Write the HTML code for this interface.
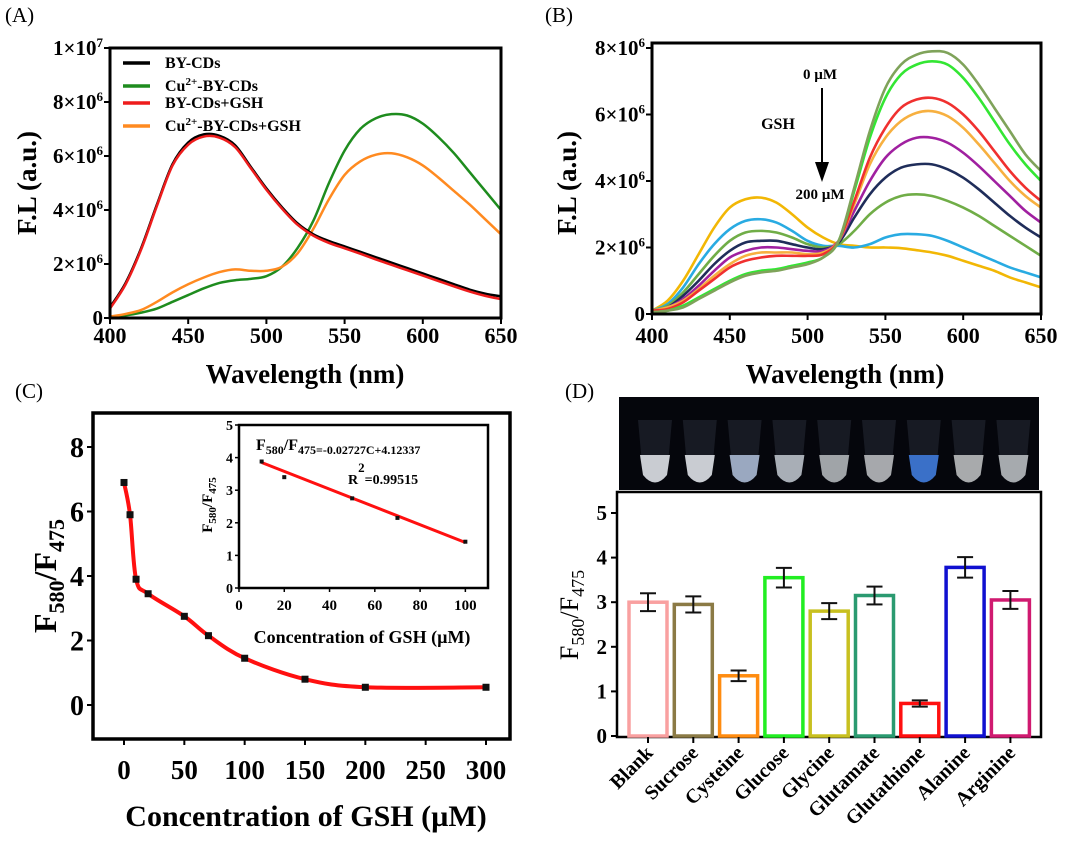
<!DOCTYPE html>
<html><head><meta charset="utf-8"><style>
body{margin:0;background:#fff}
</style></head><body>
<svg id="s" width="1080" height="845" viewBox="0 0 1080 845" xmlns="http://www.w3.org/2000/svg"></svg>
<script>
// ---------- Data ----------
const wl = [400,410,420,430,440,450,460,470,480,490,500,510,520,530,540,550,560,570,580,590,600,610,620,630,640,650];
const aNames = ["BY-CDs","Cu2+-BY-CDs","BY-CDs+GSH","Cu2+-BY-CDs+GSH"];
const aBlack = [0.4,1.3,2.6,4.2,5.7,6.5,6.8,6.75,6.4,5.6,4.8,4.1,3.5,3.1,2.85,2.65,2.45,2.25,2.05,1.85,1.65,1.45,1.25,1.05,0.9,0.8];
const aGreen = [0.05,0.1,0.2,0.35,0.6,0.85,1.1,1.3,1.4,1.45,1.55,1.9,2.6,3.6,5.0,6.2,7.0,7.4,7.55,7.5,7.2,6.7,6.1,5.4,4.7,4.0];
const aRed = [0.35,1.25,2.55,4.15,5.65,6.42,6.72,6.68,6.33,5.55,4.75,4.05,3.45,3.05,2.78,2.58,2.38,2.17,1.97,1.77,1.57,1.37,1.17,0.98,0.82,0.7];
const aOrange = [0.05,0.15,0.3,0.6,0.95,1.25,1.5,1.7,1.8,1.75,1.75,1.9,2.4,3.3,4.4,5.3,5.8,6.05,6.1,5.95,5.65,5.2,4.7,4.2,3.65,3.1];
const bOlive = [0.05,0.1,0.2,0.45,0.7,0.95,1.15,1.25,1.3,1.4,1.5,1.7,2.2,3.8,5.5,6.8,7.5,7.8,7.9,7.85,7.5,6.9,6.2,5.5,4.8,4.3];
const bLime = [0.05,0.1,0.25,0.5,0.75,1.0,1.2,1.3,1.35,1.45,1.55,1.7,2.2,3.7,5.3,6.5,7.2,7.5,7.6,7.5,7.1,6.5,5.8,5.1,4.5,4.0];
const bRed = [0.1,0.15,0.35,0.7,1.05,1.4,1.6,1.7,1.75,1.75,1.75,1.8,2.2,3.4,4.7,5.6,6.2,6.45,6.5,6.35,6.0,5.5,4.9,4.3,3.8,3.4];
const bOrange = [0.1,0.2,0.4,0.75,1.15,1.5,1.75,1.85,1.85,1.85,1.8,1.85,2.2,3.3,4.5,5.3,5.8,6.05,6.1,5.95,5.6,5.1,4.55,4.0,3.55,3.2];
const bPurple = [0.1,0.2,0.45,0.85,1.3,1.7,1.9,2.0,2.0,1.95,1.9,1.9,2.2,3.1,4.0,4.7,5.1,5.3,5.3,5.15,4.85,4.45,4.0,3.55,3.1,2.75];
const bNavy = [0.1,0.2,0.55,1.0,1.5,1.9,2.15,2.2,2.2,2.1,2.0,1.95,2.15,2.9,3.6,4.1,4.4,4.5,4.5,4.35,4.1,3.75,3.35,2.95,2.6,2.3];
const bGreen = [0.1,0.25,0.65,1.2,1.75,2.2,2.45,2.5,2.45,2.3,2.1,2.0,2.1,2.5,3.0,3.35,3.55,3.6,3.55,3.4,3.2,2.95,2.65,2.35,2.05,1.75];
const bBlue = [0.1,0.3,0.8,1.5,2.1,2.55,2.8,2.85,2.75,2.5,2.2,2.05,2.05,2.0,2.1,2.3,2.4,2.4,2.35,2.2,2.0,1.8,1.6,1.4,1.25,1.1];
const bYellow = [0.1,0.4,1.0,1.8,2.6,3.2,3.45,3.5,3.35,3.0,2.6,2.3,2.1,2.05,2.0,2.0,1.98,1.92,1.85,1.75,1.6,1.45,1.3,1.1,0.95,0.8];
const cConc = [0,5,10,20,50,70,100,150,200,300];
const cRatio = [6.9,5.9,3.9,3.45,2.75,2.15,1.45,0.8,0.55,0.55];
const insetConc = [10,20,50,70,100];
const insetRatio = [3.88,3.4,2.75,2.15,1.42];
const fitSlope = -0.02727, fitIntercept = 4.12337;
const dCats = ["Blank","Sucrose","Cysteine","Glucose","Glycine","Glutamate","Glutathione","Alanine","Arginine"];
const dVals = [3.0,2.95,1.35,3.55,2.8,3.15,0.73,3.78,3.05];
const dErr = [0.2,0.18,0.12,0.22,0.18,0.2,0.07,0.23,0.2];
const wlTicks = [400,450,500,550,600,650];
const cTicksX = [0,50,100,150,200,250,300];
const cTicksY = [0,2,4,6,8];
const insetTicksX = [0,20,40,60,80,100];
const insetTicksY = [0,1,2,3,4,5];
const dTicksY = [0,1,2,3,4,5];

// ---------- helpers ----------
const S = document.getElementById('s');
const NS = "http://www.w3.org/2000/svg";
const FONT = "font-family:'Liberation Serif','DejaVu Serif',serif;";
function mk(tag, attrs, parent){const e=document.createElementNS(NS,tag);for(const k in attrs)e.setAttribute(k,attrs[k]);(parent||S).appendChild(e);return e;}
function txt(x,y,str,size,anchor,parent,extra){const ex=extra||{};const w=ex.weight||'bold';delete ex.weight;
const t=mk('text',Object.assign({x:x,y:y,'text-anchor':anchor||'middle',style:FONT+'font-weight:'+w+';font-size:'+size+'px;fill:#000'},ex),parent);t.innerHTML=str;return t;}
function lin(d0,d1,r0,r1){return v=>r0+(v-d0)*(r1-r0)/(d1-d0);}
function smooth(pts){let d="M"+pts[0][0]+","+pts[0][1];for(let i=0;i<pts.length-1;i++){const p0=pts[i-1]||pts[i],p1=pts[i],p2=pts[i+1],p3=pts[i+2]||p2;d+=" C"+(p1[0]+(p2[0]-p0[0])/6)+","+(p1[1]+(p2[1]-p0[1])/6)+" "+(p2[0]-(p3[0]-p1[0])/6)+","+(p2[1]-(p3[1]-p1[1])/6)+" "+p2[0]+","+p2[1];}return d;}
function sup6(){return '×10<tspan dy="-8" style="font-size:13px">6</tspan>';}

// ---------- Panel A ----------
(function(){
const g=mk('g',{});


const X=lin(400,650,110,501), Y=lin(0,1e7,318,48);
const lb=txt(5,22,'(A)',21,'start',g,{weight:'normal'});

const series=[[aGreen,'#1e8c1e'],[aOrange,'#ff8a20'],[aBlack,'#000'],[aRed,'#ee1c1c']];
series.forEach(([v,c],i)=>{const p=mk('path',{d:smooth(wl.map((w,j)=>[X(w),Y(v[j]*1e6)])),fill:'none',stroke:c,'stroke-width':2.5},g);
});
mk('rect',{x:110,y:48,width:391,height:270,fill:'none',stroke:'#000','stroke-width':3},g);
[0,2e6,4e6,6e6,8e6,1e7].forEach((v,i)=>{const y=Y(v);mk('line',{x1:104,x2:110,y1:y,y2:y,stroke:'#000','stroke-width':2},g);
const t=txt(103,y+7,i==0?'0':(i==5?'1×10<tspan dy="-8" style="font-size:13px">7</tspan>':(v/1e6)+sup6()),21,'end',g);});
wlTicks.forEach(w=>{const x=X(w);mk('line',{x1:x,x2:x,y1:318,y2:324,stroke:'#000','stroke-width':2},g);const t=txt(x,343,w,22,'middle',g);});
const xt=txt(305,383,'Wavelength (nm)',27,'middle',g);
const yt=txt(0,0,'F.L (a.u.)',27,'middle',g,{transform:'translate(36,183) rotate(-90)'});
const leg=[['#000','BY-CDs'],['#1e8c1e','Cu<tspan dy="-6" style="font-size:11px">2+</tspan><tspan dy="6">-BY-CDs</tspan>'],['#ee1c1c','BY-CDs+GSH'],['#ff8a20','Cu<tspan dy="-6" style="font-size:11px">2+</tspan><tspan dy="6">-BY-CDs+GSH</tspan>']];
const ly=[63,86,103,126];
leg.forEach(([c,s],i)=>{const e=mk('g',{},g);
mk('line',{x1:123,x2:150,y1:ly[i],y2:ly[i],stroke:c,'stroke-width':3.5},e);txt(165,ly[i]+5,s,16,'start',e);});
})();

// ---------- Panel B ----------
(function(){
const g=mk('g',{});


const X=lin(400,650,652,1041), Y=lin(0,8e6,314,48);
const lb=txt(545,22,'(B)',21,'start',g,{weight:'normal'});
const series=[[bYellow,'#f2b705'],[bBlue,'#29abe2'],[bGreen,'#70ad47'],[bNavy,'#1f2d5a'],[bPurple,'#a020a0'],[bOrange,'#f7b040'],[bRed,'#f0302f'],[bLime,'#33e633'],[bOlive,'#7fa35a']];
series.forEach(([v,c])=>{const p=mk('path',{d:smooth(wl.map((w,j)=>[X(w),Y(v[j]*1e6)])),fill:'none',stroke:c,'stroke-width':2.6},g);
});
mk('rect',{x:652,y:43,width:389,height:271,fill:'none',stroke:'#000','stroke-width':3},g);
[0,2e6,4e6,6e6,8e6].forEach((v,i)=>{const y=Y(v);mk('line',{x1:646,x2:652,y1:y,y2:y,stroke:'#000','stroke-width':2},g);
const t=txt(645,y+7,i==0?'0':(v/1e6)+sup6(),21,'end',g);});
wlTicks.forEach(w=>{const x=X(w);mk('line',{x1:x,x2:x,y1:314,y2:320,stroke:'#000','stroke-width':2},g);const t=txt(x,343,w,22,'middle',g);});
const xt=txt(845,383,'Wavelength (nm)',27,'middle',g);
const yt=txt(0,0,'F.L (a.u.)',27,'middle',g,{transform:'translate(576,183) rotate(-90)'});
const a1=txt(820,79,'0 µM',15,'middle',g);
const a2=txt(778,129,'GSH',16,'middle',g);
const a3=txt(820,199,'200 µM',15,'middle',g);
const ar=mk('g',{},g);
mk('line',{x1:822,x2:822,y1:88,y2:165,stroke:'#000','stroke-width':2},ar);
mk('polygon',{points:'815,162 829,162 822,182',fill:'#000'},ar);
})();

// ---------- Panel C ----------
(function(){
const g=mk('g',{});


const X=lin(0,300,124,486), Y=lin(0,8,705,447);
const lb=txt(15,398,'(C)',21,'start',g,{weight:'normal'});
mk('rect',{x:93,y:413,width:417,height:326,fill:'none',stroke:'#000','stroke-width':3.5},g);
const pts=cConc.map((c,i)=>[X(c),Y(cRatio[i])]);
const ln=mk('path',{d:smooth(pts),fill:'none',stroke:'#ff1010','stroke-width':4},g);
pts.forEach(p=>{const r=mk('rect',{x:p[0]-3.5,y:p[1]-3.5,width:7,height:7,fill:'#111'},g);});
cTicksY.forEach(v=>{const y=Y(v);mk('line',{x1:87,x2:93,y1:y,y2:y,stroke:'#000','stroke-width':2},g);const t=txt(84,y+10,v,28,'end',g);});
cTicksX.forEach(v=>{const x=X(v);mk('line',{x1:x,x2:x,y1:739,y2:745,stroke:'#000','stroke-width':2},g);const t=txt(x,779,v,27,'middle',g);});
const xt=txt(306,826,'Concentration of GSH (µM)',30,'middle',g);
const yt=txt(0,0,'F<tspan dy="8" style="font-size:22px">580</tspan><tspan dy="-8">/F</tspan><tspan dy="8" style="font-size:22px">475</tspan>',32,'middle',g,{transform:'translate(56,576) rotate(-90)'});
// inset
const ig=mk('g',{},g);
const IX=lin(0,110,239,488), IY=lin(0,5,588,425);
mk('rect',{x:239,y:425,width:249,height:163,fill:'#fff',stroke:'#000','stroke-width':2.5},ig);
const fl=mk('line',{x1:IX(insetConc[0]),y1:IY(fitSlope*insetConc[0]+fitIntercept),x2:IX(insetConc[4]),y2:IY(fitSlope*insetConc[4]+fitIntercept),stroke:'#ff1010','stroke-width':3},ig);

insetConc.forEach((c,i)=>{const r=mk('rect',{x:IX(c)-2,y:IY(insetRatio[i])-2,width:4,height:4,fill:'#111'},ig);});
insetTicksY.forEach(v=>{const y=IY(v);mk('line',{x1:235,x2:239,y1:y,y2:y,stroke:'#000','stroke-width':1.5},ig);const t=txt(233,y+5,v,14,'end',ig);});
insetTicksX.forEach(v=>{const x=IX(v);mk('line',{x1:x,x2:x,y1:588,y2:592,stroke:'#000','stroke-width':1.5},ig);const t=txt(x,610,v,15,'middle',ig);});
const it=txt(362,643,'Concentration of GSH (µM)',18,'middle',ig);
const iy=txt(0,0,'F<tspan dy="4" style="font-size:11px">580</tspan><tspan dy="-4">/F</tspan><tspan dy="4" style="font-size:11px">475</tspan>',15,'middle',ig,{transform:'translate(212,505) rotate(-90)'});
const eq=txt(256,450,'F<tspan dy="4" style="font-size:12px">580</tspan><tspan dy="-4">/F</tspan><tspan dy="4" style="font-size:12px">475=-0.02727C+4.12337</tspan>',16,'start',ig);
const r2=txt(348,484,'R<tspan dy="-12" style="font-size:13px">2</tspan><tspan dy="12">=0.99515</tspan>',14,'start',ig);
})();

// ---------- Panel D ----------
(function(){
const g=mk('g',{});


const lb=txt(565,398,'(D)',21,'start',g,{weight:'normal'});
const ph=mk('g',{},g);
mk('rect',{x:619,y:397,width:420,height:93,fill:'#05060c'},ph);
const X0=648, step=45.3, Y=lin(0,5,736,513);
const liq=['#c9ccd2','#c9ccd2','#9aa8c0','#a8aeb6','#a0a4a8','#a6a8ac','#3a70c8','#a8aaac','#a6aaae'];
dCats.forEach((c,i)=>{const cx=655+i*44.8;const t=mk('path',{d:`M${cx-17},420 L${cx+17},420 L${cx+12},475 Q${cx},490 ${cx-12},475 Z`,fill:'#2a2e3a',opacity:0.5},ph);

mk('path',{d:`M${cx-15},455 L${cx+15},455 L${cx+12},475 Q${cx},490 ${cx-12},475 Z`,fill:liq[i]},ph);});
mk('rect',{x:617,y:492,width:424,height:245,fill:'none',stroke:'#000','stroke-width':2.5},g);
const cols=['#f9a0a0','#8b7a45','#ff8c10','#22ee22','#c8c020','#2a9a70','#ff1010','#1010d0','#d01a70'];
dCats.forEach((c,i)=>{const x=X0+i*step;
const b=mk('rect',{x:x-19,y:Y(dVals[i]),width:38,height:736-Y(dVals[i]),fill:'none',stroke:cols[i],'stroke-width':3.5},g);

const e=mk('g',{},g);
const yt=Y(dVals[i]+dErr[i]),yb=Y(dVals[i]-dErr[i]);
mk('line',{x1:x,x2:x,y1:yt,y2:yb,stroke:'#111','stroke-width':2},e);
mk('line',{x1:x-8,x2:x+8,y1:yt,y2:yt,stroke:'#111','stroke-width':2},e);
mk('line',{x1:x-8,x2:x+8,y1:yb,y2:yb,stroke:'#111','stroke-width':2},e);
mk('line',{x1:x,x2:x,y1:737,y2:743,stroke:'#000','stroke-width':2},g);
const t=txt(0,0,c,20,'end',g,{transform:`translate(${x+6},754) rotate(-45)`});});
dTicksY.forEach(v=>{const y=Y(v);mk('line',{x1:611,x2:617,y1:y,y2:y,stroke:'#000','stroke-width':2},g);const t=txt(607,y+7,v,21,'end',g);});
const yt=txt(0,0,'F<tspan dy="6" style="font-size:18px">580</tspan><tspan dy="-6">/F</tspan><tspan dy="6" style="font-size:18px">475</tspan>',26,'middle',g,{transform:'translate(578,615) rotate(-90)',weight:'normal'});

})();
</script>
</body></html>
